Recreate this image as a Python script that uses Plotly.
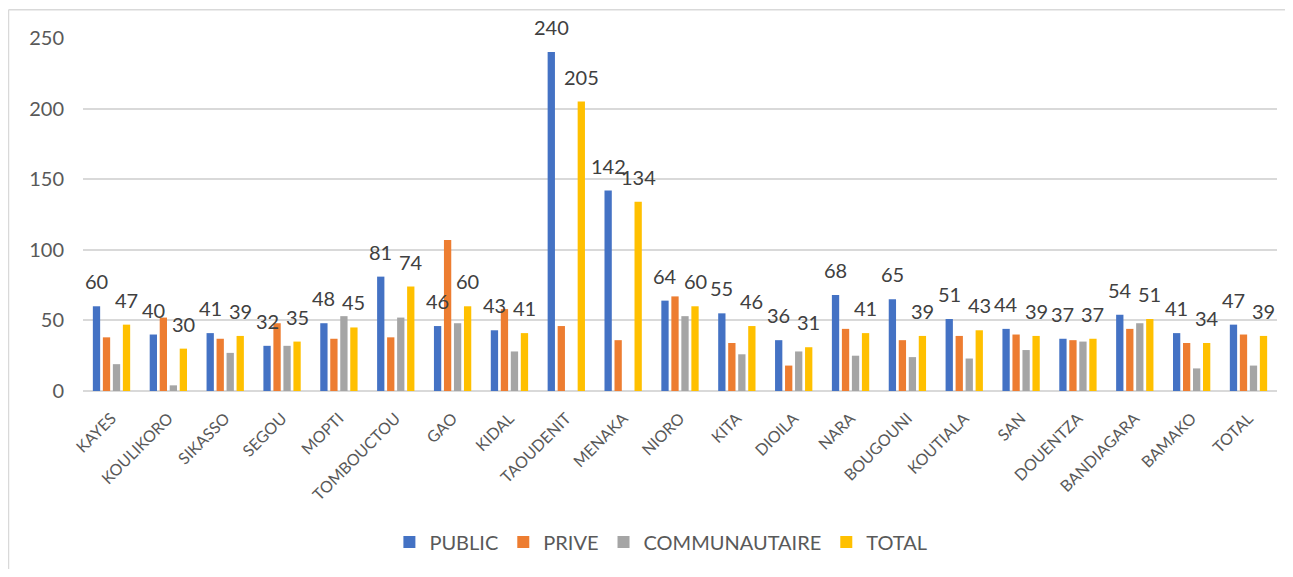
import plotly.graph_objects as go

categories = ["KAYES", "KOULIKORO", "SIKASSO", "SEGOU", "MOPTI", "TOMBOUCTOU", "GAO", "KIDAL",
              "TAOUDENIT", "MENAKA", "NIORO", "KITA", "DIOILA", "NARA", "BOUGOUNI", "KOUTIALA",
              "SAN", "DOUENTZA", "BANDIAGARA", "BAMAKO", "TOTAL"]
public = [60, 40, 41, 32, 48, 81, 46, 43, 240, 142, 64, 55, 36, 68, 65, 51, 44, 37, 54, 41, 47]
prive = [38, 52, 37, 48, 37, 38, 107, 58, 46, 36, 67, 34, 18, 44, 36, 39, 40, 36, 44, 34, 40]
communautaire = [19, 4, 27, 32, 53, 52, 48, 28, 0, 0, 53, 26, 28, 25, 24, 23, 29, 35, 48, 16, 18]
total = [47, 30, 39, 35, 45, 74, 60, 41, 205, 134, 60, 46, 31, 41, 39, 43, 39, 37, 51, 34, 39]
y_ticks = [0, 50, 100, 150, 200, 250]

FONT = "Lato, 'Open Sans', sans-serif"
series = [
    ("PUBLIC", public, "#4472C4", True),
    ("PRIVE", prive, "#ED7D31", False),
    ("COMMUNAUTAIRE", communautaire, "#A5A5A5", False),
    ("TOTAL", total, "#FFC000", True),
]

W, H = 1277, 561
ML, MR, MT, MB = 75, 8, 30, 173
BARGAP, GROUPGAP = 0.296, 0.27
n_series = len(series)
cat_px = (W - ML - MR) / len(categories)
slot_px = cat_px * (1 - BARGAP) / n_series

fig = go.Figure()
annotations = []
for i, (name, vals, color, labeled) in enumerate(series):
    fig.add_trace(go.Bar(
        name=name, x=categories, y=vals,
        marker=dict(color=color, line=dict(width=0)),
        cliponaxis=False,
        hoverinfo="x+y+name",
    ))
    if labeled:
        shift = (i - (n_series - 1) / 2) * slot_px
        for c, v in zip(categories, vals):
            annotations.append(dict(
                x=c, y=v, xref="x", yref="y", text=str(v), showarrow=False,
                xanchor="center", yanchor="bottom", xshift=shift, yshift=11,
                font=dict(family=FONT, size=20, color="#404040"),
            ))

fig.update_layout(
    width=W, height=H,
    barmode="group", bargap=BARGAP, bargroupgap=GROUPGAP,
    paper_bgcolor="white", plot_bgcolor="white",
    margin=dict(l=ML, r=MR, t=MT, b=MB),
    font=dict(family=FONT, color="#595959"),
    yaxis=dict(range=[0, 250], tickvals=y_ticks, showgrid=True, gridcolor="#D9D9D9", gridwidth=1.5,
               zeroline=True, zerolinecolor="#D9D9D9", zerolinewidth=1.5,
               tickfont=dict(size=20, color="#595959"), ticks="", showline=False,
               ticklabelstandoff=18, automargin=False),
    xaxis=dict(tickangle=-45, tickfont=dict(size=16, color="#595959"), showline=False,
               ticks="", automargin=False, ticklabelstandoff=14),
    legend=dict(orientation="h", x=0.484, xanchor="center", y=-0.428, yanchor="middle",
                font=dict(size=20, color="#595959"), itemwidth=30, traceorder="normal"),
    showlegend=True,
    annotations=annotations,
)
# chart frame (outer border)
fig.add_shape(type="line", xref="paper", yref="paper", x0=-0.0624, x1=-0.0624, y0=1.08, y1=-0.6,
              line=dict(color="#D9D9D9", width=1.5))
fig.add_shape(type="line", xref="paper", yref="paper", x0=-0.0624, x1=1.1, y0=1.08, y1=1.08,
              line=dict(color="#D9D9D9", width=1.5))

fig.write_html("out.html")
